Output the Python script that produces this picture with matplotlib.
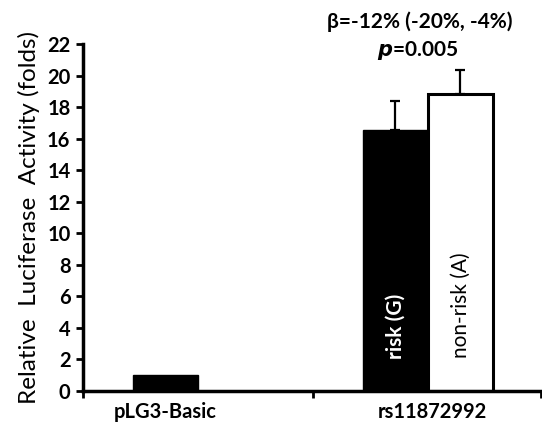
import matplotlib
matplotlib.use("Agg")
import matplotlib.pyplot as plt
import numpy as np

plt.rcParams['font.family'] = ['Lato', 'DejaVu Sans']

categories = ["pLG3-Basic", "rs11872992"]
basic_value = [1.0]
risk_value = [16.55]
risk_err = [1.86]
nonrisk_value = [18.83]
nonrisk_err = [1.52]
yticks = list(range(0, 23, 2))

fig = plt.figure(figsize=(5.42, 4.23), dpi=100)
ax = fig.add_axes([83/542, 1 - 391/423, 458/542, 347/423])

w = 0.283
# pLG3-Basic: first slot of the cluster
ax.bar([0 - w/2], basic_value, width=w, color='black', edgecolor='black', linewidth=1.0, zorder=2)
# rs11872992
ax.bar([1 - w/2], risk_value, width=w, color='black', edgecolor='black', linewidth=1.0, zorder=2)
ax.bar([1 + w/2], nonrisk_value, width=w, color='white', edgecolor='black', linewidth=2.2, zorder=2)
ax.errorbar([1 - w/2], risk_value, yerr=[[0], risk_err], fmt='none', ecolor='black',
            elinewidth=1.6, capsize=3.3, capthick=1.6, zorder=1)
ax.errorbar([1 + w/2], nonrisk_value, yerr=[[0], nonrisk_err], fmt='none', ecolor='black',
            elinewidth=1.6, capsize=3.3, capthick=1.6, zorder=1)

ax.text(1 - w/2, 4.1, "risk (G)", rotation=90, color='white', fontweight='bold',
        fontsize=15, ha='center', va='center')
ax.text(1 + w/2, 5.45, "non-risk (A)", rotation=90, color='black',
        fontsize=15, ha='center', va='center')

ax.set_ylim(0, 22)
ax.set_xlim(-0.5, 1.492)
ax.set_yticks(yticks)
ax.set_yticklabels([str(t) for t in yticks], fontsize=14.5, fontweight='bold')
ax.set_xticks([-0.5, 0.5, 1.492])
ax.set_xticklabels([])
ax.set_xticks([0 - w/2, 1.02], minor=True)
ax.set_xticklabels(categories, minor=True, fontsize=14.5, fontweight='bold')
ax.tick_params(axis='x', which='minor', length=0, pad=8)
ax.tick_params(axis='x', which='major', length=5, width=2, direction='out')
ax.tick_params(axis='y', length=5, width=2, direction='out', pad=4)

for s in ['top', 'right']:
    ax.spines[s].set_visible(False)
for s in ['left', 'bottom']:
    ax.spines[s].set_linewidth(2.5)

ax.set_ylabel("Relative  Luciferase  Activity (folds)", fontsize=17.5, labelpad=5)

fig.text(420/542, 1 - 22/423, "β=-12% (-20%, -4%)", fontsize=15, fontweight='bold',
         ha='center', va='center')
fig.text(418/542, 1 - 50/423, r"$\mathbfit{p}$=0.005", fontsize=15, fontweight='bold',
         ha='center', va='center')

fig.savefig("out.png", dpi=100)
